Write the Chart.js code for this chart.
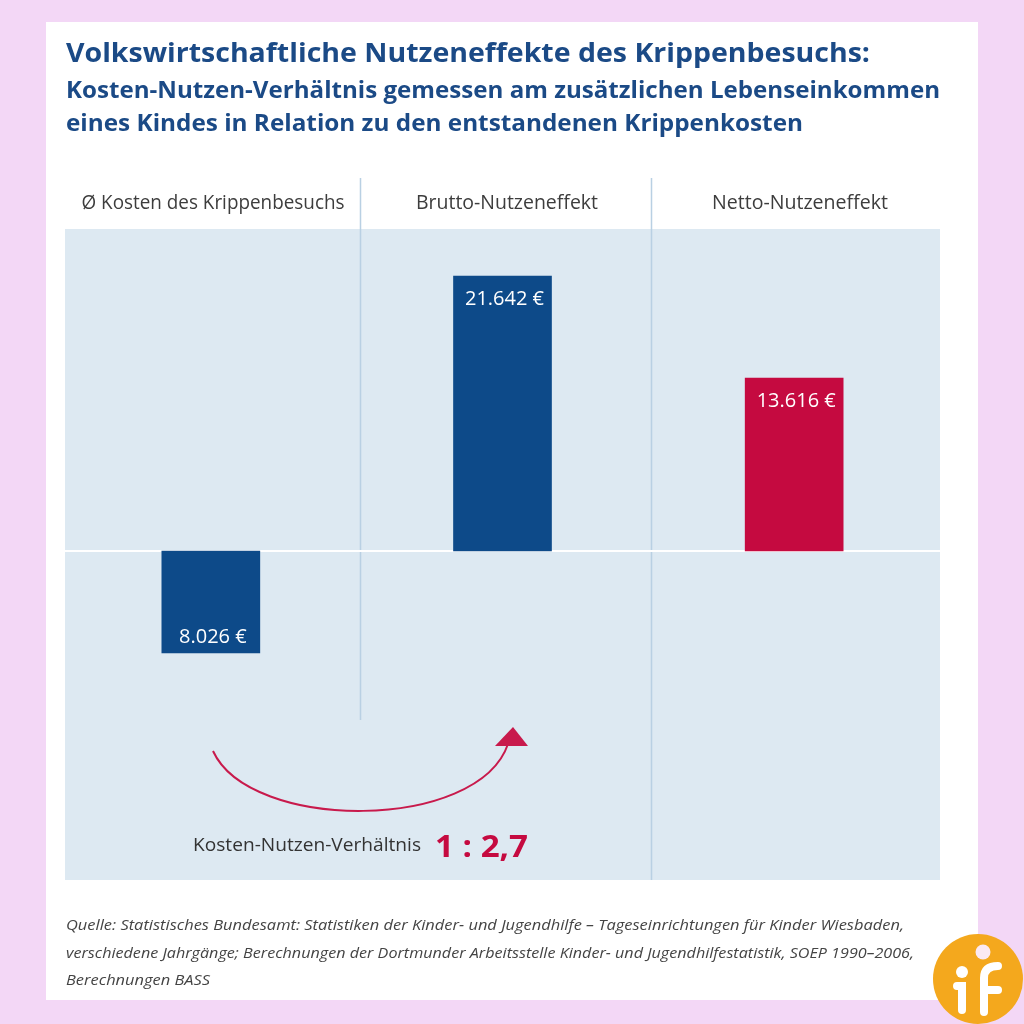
<!DOCTYPE html>
<html>
<head>
<meta charset="utf-8">
<script src="https://cdn.jsdelivr.net/npm/chart.js@4.4.1/dist/chart.umd.min.js"></script>
<style>
html,body{margin:0;padding:0;background:#f3d7f6;}
#wrap{position:absolute;left:0;top:0;width:1024px;height:1024px;}
</style>
</head>
<body>
<div id="wrap"><canvas id="c" width="1024" height="1024"></canvas></div>
<script>
// ---- data ----
const titleLines = [
  'Volkswirtschaftliche Nutzeneffekte des Krippenbesuchs:',
  'Kosten-Nutzen-Verhältnis gemessen am zusätzlichen Lebenseinkommen',
  'eines Kindes in Relation zu den entstandenen Krippenkosten'
];
const categories = ['Ø Kosten des Krippenbesuchs', 'Brutto-Nutzeneffekt', 'Netto-Nutzeneffekt'];
const values = [-8026, 21642, 13616];
const ratioLabel = 'Kosten-Nutzen-Verhältnis';
const ratioValue = '1 : 2,7';
const sourceLines = [
  'Quelle: Statistisches Bundesamt: Statistiken der Kinder- und Jugendhilfe – Tageseinrichtungen für Kinder Wiesbaden,',
  'verschiedene Jahrgänge; Berechnungen der Dortmunder Arbeitsstelle Kinder- und Jugendhilfestatistik, SOEP 1990–2006,',
  'Berechnungen BASS'
];

const BLUE = '#0d4a89';
const RED = '#c50a40';
const TITLE = '#1b4a86';

function fitText(ctx, text, x, y, targetW) {
  const w = ctx.measureText(text).width;
  ctx.save();
  ctx.translate(x, y);
  if (targetW) ctx.scale(targetW / w, 1);
  ctx.fillText(text, 0, 0);
  ctx.restore();
}

const decor = {
  id: 'decor',
  beforeDraw(chart) {
    const ctx = chart.ctx, a = chart.chartArea;
    ctx.save();
    ctx.fillStyle = '#f3d7f6';
    ctx.fillRect(0, 0, 1024, 1024);
    ctx.fillStyle = '#ffffff';
    ctx.fillRect(46, 22, 932, 978);
    ctx.fillStyle = '#dde9f2';
    ctx.fillRect(a.left, a.top, a.right - a.left, a.bottom - a.top);

    // titles
    ctx.fillStyle = TITLE;
    ctx.textBaseline = 'alphabetic';
    ctx.textAlign = 'left';
    ctx.font = 'bold 27px "Open Sans"';
    fitText(ctx, titleLines[0], 66, 62, 804);
    ctx.font = 'bold 23px "Open Sans"';
    fitText(ctx, titleLines[1], 66, 98, 874);
    fitText(ctx, titleLines[2], 66, 131, 737);

    // column headers
    const xs = chart.scales.x;
    ctx.fillStyle = '#3d3d3d';
    ctx.font = '20px "Open Sans"';
    const hw = [263, 182, 176];
    const hx = [213, 507, 800];
    categories.forEach((c, i) => {
      fitText(ctx, c, hx[i] - hw[i] / 2, 209, hw[i]);
    });

    // separators
    ctx.strokeStyle = '#b9d0e3';
    ctx.lineWidth = 1.5;
    const sepBottoms = [720, a.bottom];
    for (let i = 0; i < categories.length - 1; i++) {
      const sx = Math.round((xs.getPixelForValue(i) + xs.getPixelForValue(i + 1)) / 2) + 3.5;
      ctx.beginPath();
      ctx.moveTo(sx, 178);
      ctx.lineTo(sx, sepBottoms[i]);
      ctx.stroke();
    }

    // source
    ctx.fillStyle = '#444444';
    ctx.font = 'italic 15px "Open Sans"';
    fitText(ctx, sourceLines[0], 66, 930, 838);
    fitText(ctx, sourceLines[1], 66, 958, 848);
    fitText(ctx, sourceLines[2], 66, 985, 144);
    ctx.restore();
  },
  beforeDatasetsDraw(chart) {
    const ctx = chart.ctx, a = chart.chartArea;
    const y0 = Math.round(chart.scales.y.getPixelForValue(0));
    ctx.save();
    ctx.strokeStyle = '#ffffff';
    ctx.lineWidth = 2;
    ctx.beginPath();
    ctx.moveTo(a.left, y0);
    ctx.lineTo(a.right, y0);
    ctx.stroke();
    ctx.restore();
  },
  afterDatasetsDraw(chart) {
    const ctx = chart.ctx;
    const meta = chart.getDatasetMeta(0);
    ctx.save();
    ctx.fillStyle = '#ffffff';
    ctx.font = '20px "Open Sans"';
    ctx.textAlign = 'center';
    ctx.textBaseline = 'middle';
    meta.data.forEach((bar, i) => {
      const v = values[i];
      const txt = Math.abs(v).toLocaleString('de-DE') + ' €';
      const y = v >= 0 ? bar.y + 23 : bar.y - 16;
      ctx.fillText(txt, bar.x + 2, y);
    });

    // arrow
    ctx.strokeStyle = '#c81a4c';
    ctx.lineWidth = 2;
    ctx.beginPath();
    ctx.moveTo(213, 751);
    ctx.bezierCurveTo(250, 832, 478, 832, 508, 744);
    ctx.stroke();
    ctx.fillStyle = '#c81a4c';
    ctx.beginPath();
    ctx.moveTo(495, 746);
    ctx.lineTo(528, 746);
    ctx.lineTo(513, 727);
    ctx.closePath();
    ctx.fill();

    // ratio text
    ctx.textAlign = 'left';
    ctx.textBaseline = 'alphabetic';
    ctx.fillStyle = '#333333';
    ctx.font = '19px "Open Sans"';
    fitText(ctx, ratioLabel, 193, 851, 228);
    ctx.fillStyle = RED;
    ctx.font = 'bold 31px "Open Sans"';
    fitText(ctx, ratioValue, 435, 857, 93);

    // logo
    ctx.fillStyle = '#f4a81d';
    ctx.beginPath();
    ctx.arc(978, 979, 45, 0, Math.PI * 2);
    ctx.fill();
    ctx.fillStyle = '#fbe9f2';
    ctx.beginPath(); ctx.arc(983, 952, 7.5, 0, Math.PI * 2); ctx.fill();
    ctx.fillStyle = '#ffffff';
    ctx.beginPath(); ctx.arc(962, 972, 6, 0, Math.PI * 2); ctx.fill();
    ctx.strokeStyle = '#ffffff';
    ctx.lineWidth = 8;
    ctx.lineCap = 'round';
    ctx.beginPath(); ctx.moveTo(957, 986); ctx.lineTo(962, 986); ctx.lineTo(962, 1010); ctx.stroke();
    ctx.beginPath(); ctx.moveTo(984, 1012); ctx.lineTo(984, 978); ctx.quadraticCurveTo(984, 966, 998, 966); ctx.stroke();
    ctx.beginPath(); ctx.moveTo(984, 990); ctx.lineTo(998, 990); ctx.stroke();
    ctx.restore();
  }
};

new Chart(document.getElementById('c'), {
  type: 'bar',
  data: {
    labels: categories,
    datasets: [{
      data: values,
      backgroundColor: [BLUE, BLUE, RED],
      borderWidth: 0,
      barThickness: 98
    }]
  },
  options: {
    responsive: false,
    animation: false,
    events: [],
    layout: { padding: { left: 65, right: 84, top: 229, bottom: 144 } },
    plugins: { legend: { display: false }, tooltip: { enabled: false }, title: { display: false } },
    scales: {
      x: { display: false },
      y: { display: false, min: -25900, max: 25350 }
    }
  },
  plugins: [decor]
});
</script>
</body>
</html>
